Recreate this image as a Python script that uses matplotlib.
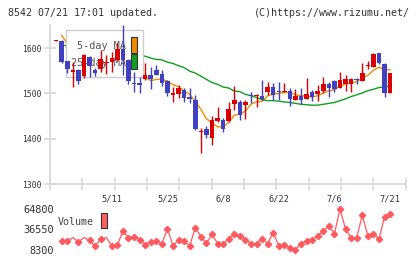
import numpy as np
import matplotlib
matplotlib.use("Agg")
import matplotlib.pyplot as plt
from matplotlib.patches import Rectangle

plt.rcParams['font.family'] = ['DejaVu Sans Mono']

# ---- data ----
opens  = [1616,1616,1572,1548,1552,1539,1581,1552,1554,1567,1569,1574,1598,1574,1524,1522,1532,1541,1552,1543,
          1528,1496,1499,1508,1491,1486,1414,1421,1402,1440,1441,1438,1477,1480,1475,1497,1494,1494,1504,1514,
          1505,1504,1505,1486,1494,1488,1502,1499,1505,1521,1527,1513,1520,1520,1532,1528,1560,1559,1590,1565,1500]
highs  = [1617,1617,1572,1569,1553,1586,1582,1557,1596,1584,1592,1611,1651,1575,1548,1537,1567,1558,1563,1552,
          1529,1515,1519,1511,1511,1497,1423,1427,1450,1470,1445,1480,1517,1486,1486,1504,1498,1530,1526,1524,
          1526,1524,1513,1510,1511,1535,1508,1519,1537,1526,1530,1548,1541,1533,1535,1567,1572,1589,1590,1568,1546]
lows   = [1615,1567,1546,1515,1520,1535,1537,1538,1547,1542,1548,1572,1541,1520,1504,1500,1530,1510,1540,1517,
          1495,1480,1489,1480,1478,1420,1369,1401,1386,1437,1415,1437,1463,1441,1443,1478,1470,1486,1497,1486,
          1486,1503,1473,1485,1477,1487,1484,1484,1500,1491,1504,1511,1506,1504,1520,1527,1554,1558,1566,1493,1500]
closes = [1616,1569,1554,1551,1528,1585,1561,1545,1576,1570,1578,1598,1573,1528,1521,1519,1541,1531,1541,1524,
          1500,1500,1512,1489,1488,1421,1416,1408,1441,1446,1421,1466,1486,1452,1482,1494,1496,1487,1515,1497,
          1504,1505,1487,1494,1486,1499,1493,1505,1521,1513,1509,1530,1532,1532,1529,1546,1561,1587,1567,1500,1546]
ma5    = [np.nan,1628,1610,1590,1564,1557,1556,1554,1559,1567,1566,1573,1579,1569,1560,1548,1536,1528,1531,1531,
          1527,1519,1515,1505,1498,1482,1465,1444,1435,1426,1426,1436,1452,1454,1461,1476,1482,1482,1495,1498,
          1500,1502,1502,1497,1495,1494,1492,1495,1501,1506,1508,1516,1521,1523,1526,1534,1540,1551,1558,1552,1552]
ma25   = [np.nan,1607,1605,1603,1601,1600,1598,1597,1595,1594,1592,1591,1589,1588,1586,1585,1582,1578,1575,1574,
          1569,1566,1561,1557,1549,1545,1538,1531,1524,1520,1514,1512,1505,1504,1498,1495,1491,1486,1484,1484,
          1483,1481,1480,1478,1476,1475,1474,1474,1476,1478,1480,1484,1488,1493,1497,1501,1506,1509,1513,1514,1516]
volume = [np.nan,19900,19900,25080,18930,25080,21300,13330,22700,25080,13330,14300,34300,25080,26480,22280,15290,18930,20890,16690,
          37670,13330,22280,19900,13330,39070,26480,17000,29700,16690,16000,23680,29700,27320,22280,16690,16690,23680,16690,32070,
          13330,14300,11100,8300,16690,20890,22280,27320,34300,40880,30680,64800,36690,24520,25000,56270,27320,30680,22700,53900,58650]
date_labels = ['5/11', '5/25', '6/8', '6/22', '7/6', '7/21']
date_index  = [10, 20, 30, 40, 50, 60]
price_ticks = [1300, 1400, 1500, 1600]
vol_ticks   = [8300, 36550, 64800]

RED = '#d80000'
BLUE = '#4040c0'
ORANGE = '#f08c00'
GREEN = '#10a020'
VOLC = '#ff5a5f'
AXC = '#d8d8d8'

W, H = 420, 259
fig = plt.figure(figsize=(W/100, H/100), dpi=100)

def fx(px):
    return px / W

def fy(py):
    return 1 - py / H

ax = fig.add_axes([fx(50), fy(184), fx(405.7) - fx(50), fy(25) - fy(184)])
n = len(closes)
x = np.arange(n)
ax.set_xlim(-1.1, 62.8)
ax.set_ylim(1300, 1651)

# moving averages (below legend box and candles)
ax.plot(x, ma5, color=ORANGE, lw=1.0, zorder=1)
ax.plot(x, ma25, color=GREEN, lw=1.0, zorder=1)

# legend box
ax.add_patch(Rectangle((fx(65.7), fy(77.3)), fx(143.3) - fx(65.7), fy(30.5) - fy(77.3),
                       transform=fig.transFigure, facecolor='white', edgecolor='#cccccc',
                       lw=1.0, zorder=2))
ax.text(fx(126), fy(46), '5-day MA', transform=fig.transFigure, ha='right', va='center',
        fontsize=7.3, color='#555555', zorder=2.5)
ax.text(fx(126), fy(62.7), '25-day MA', transform=fig.transFigure, ha='right', va='center',
        fontsize=7.3, color='#555555', zorder=2.5)
ax.add_patch(Rectangle((fx(131), fy(52.7)), fx(137.3) - fx(131), fy(36.7) - fy(52.7),
                       transform=fig.transFigure, facecolor=ORANGE, edgecolor='#333333',
                       lw=0.8, zorder=2.6))
ax.add_patch(Rectangle((fx(131), fy(69.3)), fx(137.3) - fx(131), fy(54) - fy(69.3),
                       transform=fig.transFigure, facecolor=GREEN, edgecolor='#333333',
                       lw=0.8, zorder=2.6))

# candles
o = np.array(opens, float); c = np.array(closes, float)
hi = np.array(highs, float); lo = np.array(lows, float)
cols = [RED if cc >= oo else BLUE for oo, cc in zip(o, c)]
ax.vlines(x, lo, hi, colors=cols, lw=1.0, zorder=3)
body_h = np.maximum(np.abs(c - o), 1.8)
ax.bar(x, body_h, bottom=np.minimum(o, c), width=0.82, color=cols, lw=0, zorder=3.1)

for s in ['top', 'right']:
    ax.spines[s].set_visible(False)
for s in ['left', 'bottom']:
    ax.spines[s].set_color(AXC)
    ax.spines[s].set_linewidth(1.2)

ax.set_yticks(price_ticks)
ax.set_yticklabels([str(v) for v in price_ticks])
ax.tick_params(axis='y', direction='inout', length=8, width=1.2, color=AXC,
               labelsize=5.8, labelcolor='#333333', pad=2)

ax.set_xticks(np.linspace(-1.1, 62.8, 12), minor=True)
ax.set_xticks(date_index)
ax.set_xticklabels(date_labels)
ax.tick_params(axis='x', which='minor', direction='inout', length=8, width=1.2, color=AXC)
ax.tick_params(axis='x', which='major', length=0, labelsize=6.2, labelcolor='#333333', pad=7.5)
ax.set_facecolor('white')

# header
fig.text(fx(8), fy(12.7), '8542 07/21 17:01 updated.', ha='left', va='center',
         fontsize=7.2, color='#333333')
fig.text(fx(410), fy(12.7), '(C)https://www.rizumu.net/', ha='right', va='center',
         fontsize=7.2, color='#333333')

# volume
ax2 = fig.add_axes([fx(50), fy(256), fx(405.7) - fx(50), fy(200) - fy(256)])
ax2.set_xlim(-1.1, 62.8)
ax2.set_ylim(-813, 77700)
skip = {3, 5, 9}
ax2.plot(x, volume, color=VOLC, lw=0.9, marker='D', ms=3.2, mec=VOLC, mfc=VOLC,
         markevery=[i for i in range(n) if i not in skip])
for s in ax2.spines.values():
    s.set_visible(False)
ax2.set_xticks([])
ax2.set_yticks(vol_ticks)
ax2.set_yticklabels([str(v) for v in vol_ticks])
ax2.tick_params(axis='y', length=0, labelsize=7.4, labelcolor='#333333', pad=-3)
ax2.patch.set_alpha(0)
fig.text(fx(58), fy(222.3), 'Volume', ha='left', va='center', fontsize=7.2, color='#444444')
fig.add_artist(Rectangle((fx(101), fy(228.3)), fx(107.3) - fx(101), fy(213.3) - fy(228.3),
                         transform=fig.transFigure, facecolor='#ff6060', edgecolor='#333333', lw=0.8))

fig.savefig('out.png', dpi=100)
